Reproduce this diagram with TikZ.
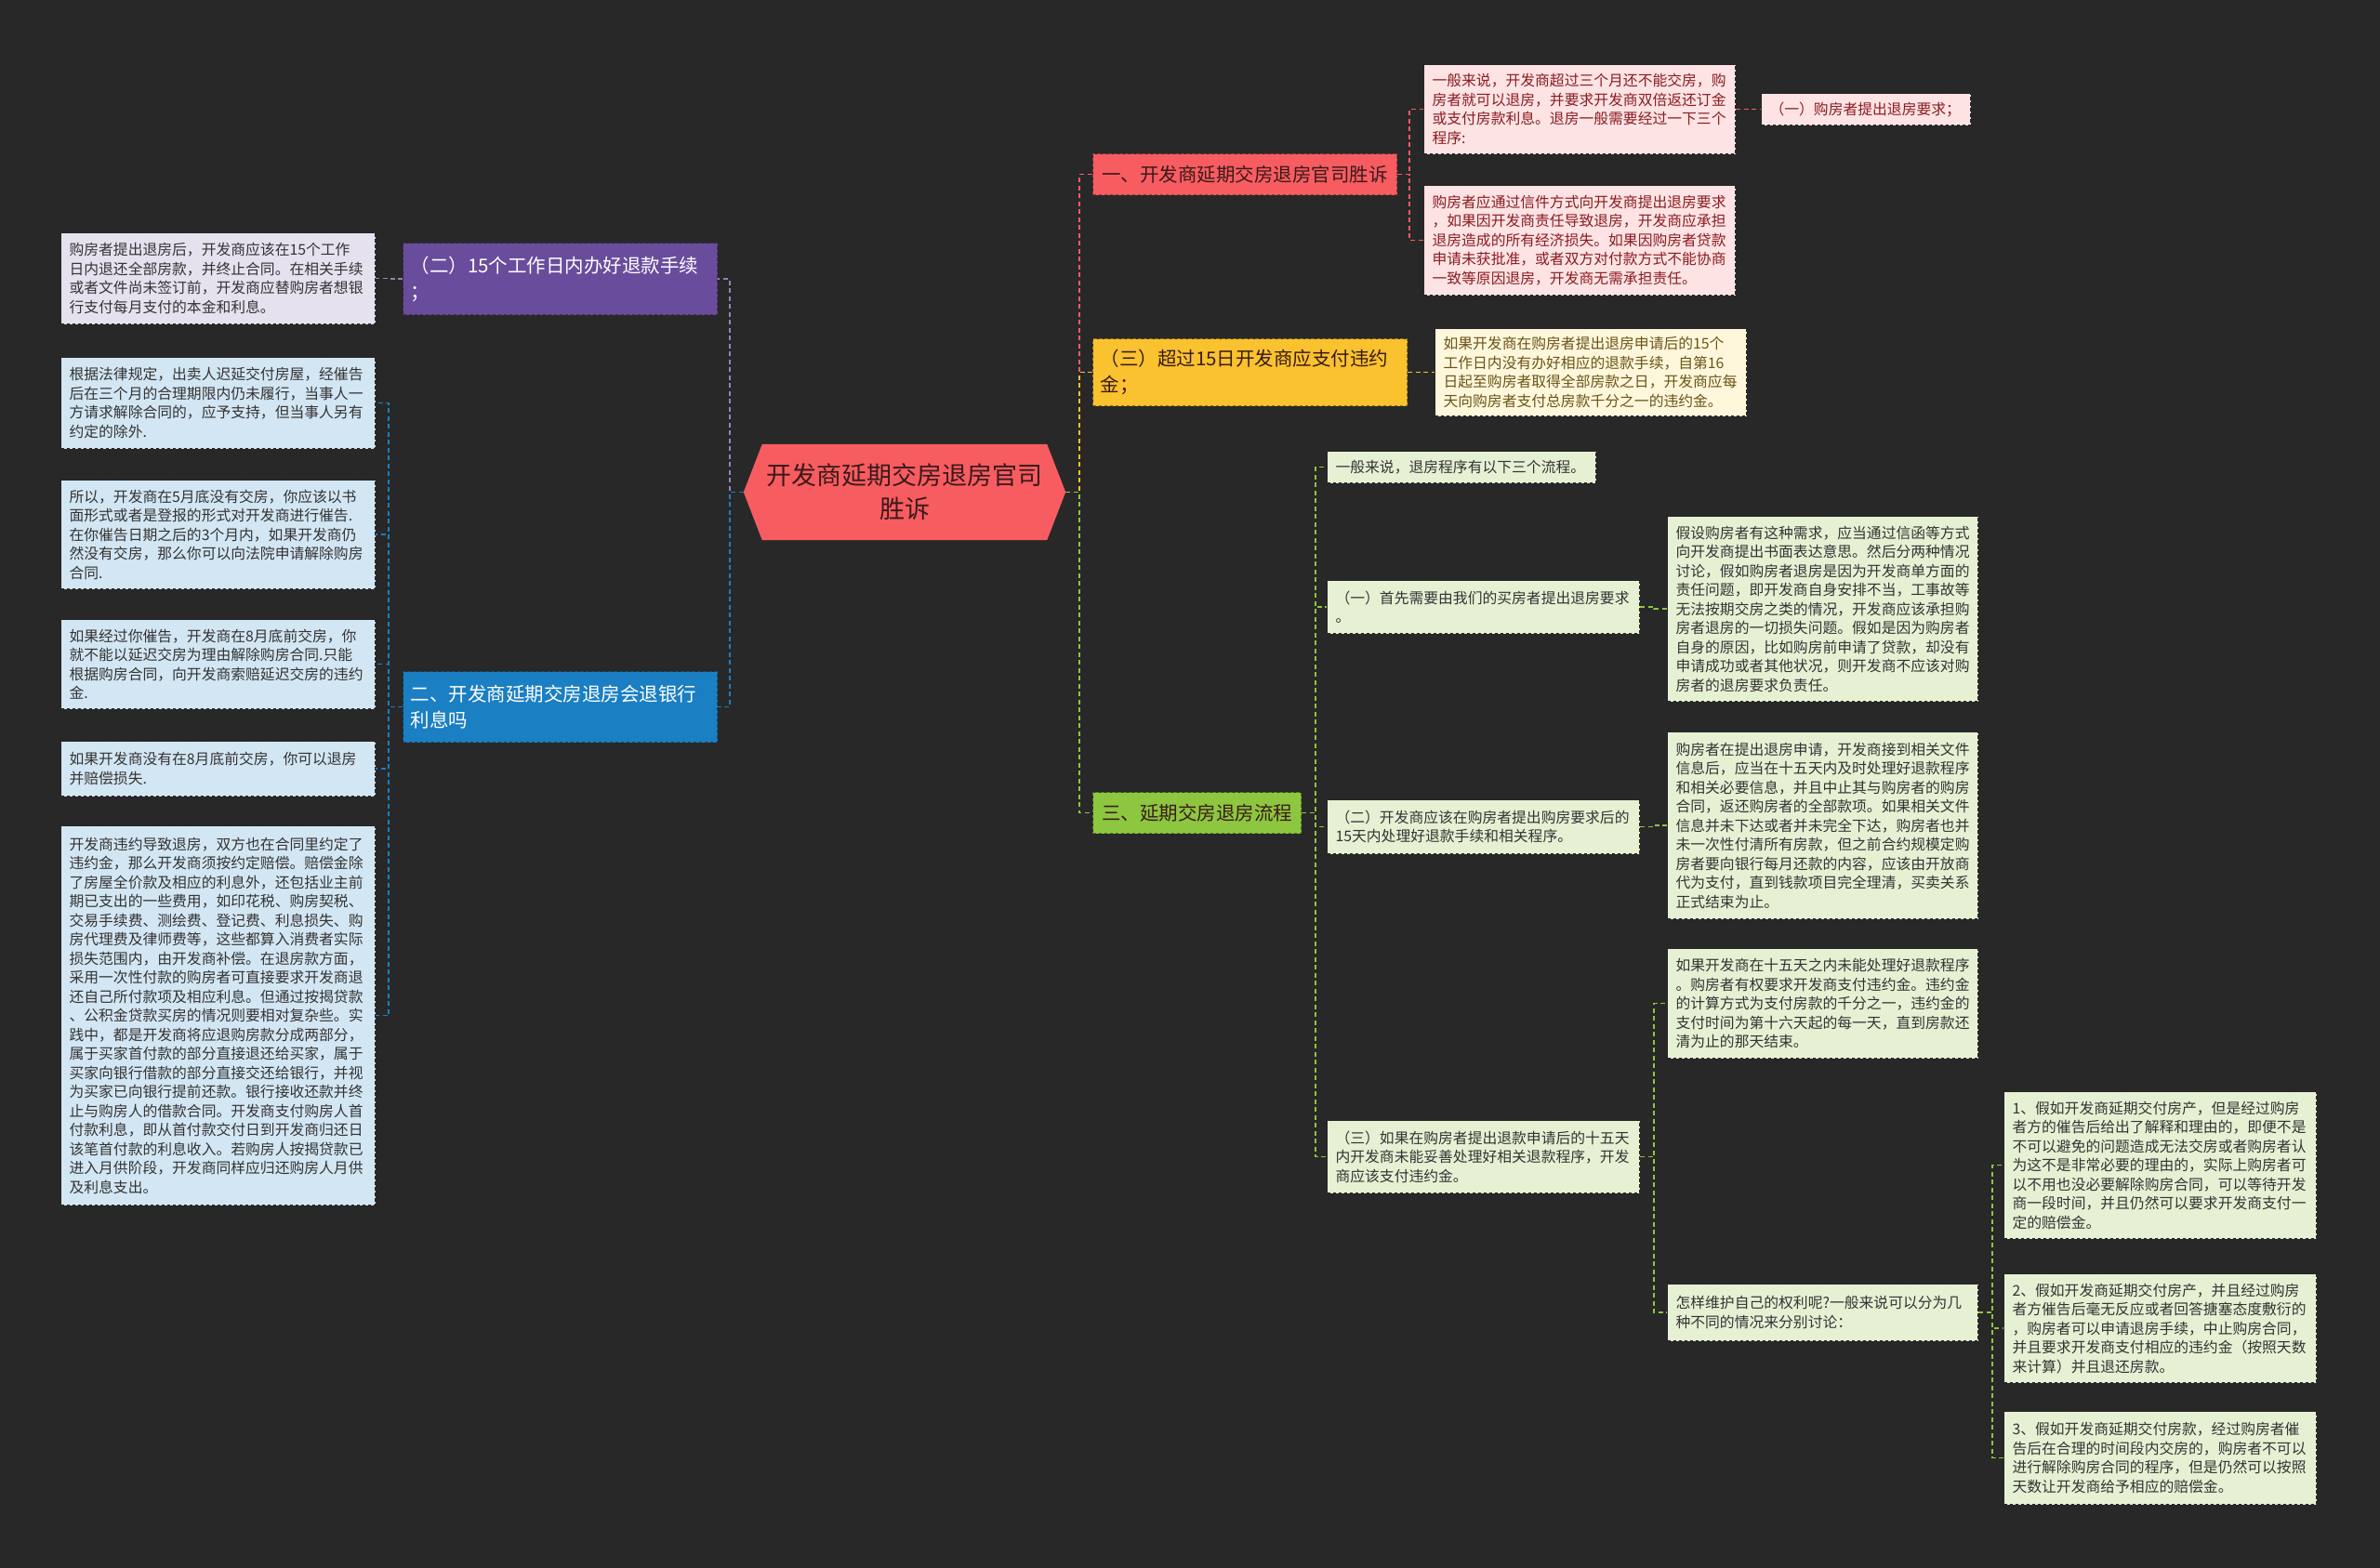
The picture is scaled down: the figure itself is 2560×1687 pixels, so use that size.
\documentclass[tikz,border=0pt]{standalone}
\usepackage{fontspec}
\setmainfont{Noto Sans CJK SC}
\usetikzlibrary{calc}
\definecolor{bgc}{HTML}{282828}
\definecolor{cRoot}{HTML}{F75C61}
\definecolor{cRed}{HTML}{F75C61}
\definecolor{cPurple}{HTML}{6A4C9C}
\definecolor{cBlue}{HTML}{1A7FC3}
\definecolor{cYellow}{HTML}{F9C22E}
\definecolor{cGreen}{HTML}{8DC63F}
\definecolor{fPurple}{HTML}{E6E1EF}
\definecolor{fBlue}{HTML}{D3E6F3}
\definecolor{fRed}{HTML}{FDE3E4}
\definecolor{fYellow}{HTML}{FEF7DC}
\definecolor{fGreen}{HTML}{E6F1D4}
\definecolor{tDark}{HTML}{333333}
\definecolor{tRed}{HTML}{8A1C20}
\definecolor{tYellow}{HTML}{6A5416}
\definecolor{tRoot}{HTML}{3A1A1A}
\pgfdeclarelayer{canvas}
\pgfdeclarelayer{bg}
\pgfsetlayers{canvas,bg,main}
\begin{document}
\begin{tikzpicture}[x=1pt,y=1pt,
  leafbox/.style={anchor=north west, inner xsep=9pt, inner ysep=3pt, align=left,
    font=\fontsize{15.8}{20.5}\selectfont, draw=black!85, line width=1.1pt,
    dash pattern=on 3.5pt off 2.5pt},
  lP/.style={leafbox, fill=fPurple, text=tDark},
  lB/.style={leafbox, fill=fBlue, text=tDark},
  lR/.style={leafbox, fill=fRed, text=tRed},
  lY/.style={leafbox, fill=fYellow, text=tYellow},
  lG/.style={leafbox, fill=fGreen, text=tDark},
  midbox/.style={anchor=north west, inner xsep=8pt, inner ysep=3pt,
    font=\fontsize{20.5}{28}\selectfont, line width=1.1pt, dash pattern=on 3.5pt off 2.5pt},
  mP/.style={midbox, fill=cPurple, draw=cPurple!60!black, text=white, align=left},
  mB/.style={midbox, fill=cBlue, draw=cBlue!60!black, text=white, align=left},
  mR/.style={midbox, fill=cRed, draw=cRed!60!black, text=tRoot, align=center},
  mY/.style={midbox, fill=cYellow, draw=cYellow!60!black, text=tRoot, align=left},
  mG/.style={midbox, fill=cGreen, draw=cGreen!60!black, text=tRoot, align=center},
  rootnode/.style={inner sep=0pt, minimum width=346pt, minimum height=103pt, align=center,
    font=\fontsize{27}{36}\selectfont, text=tRoot},
  con/.style={line width=1.5pt, dash pattern=on 5pt off 3.5pt},
  cnP/.style={con, draw=cPurple!70!white},
  cnB/.style={con, draw=cBlue},
  cnR/.style={con, draw=cRed},
  cnY/.style={con, draw=cYellow},
  cnG/.style={con, draw=cGreen},
]
\begin{pgfonlayer}{canvas}
\fill[bgc] (0,0) rectangle (2560,-1687);
\end{pgfonlayer}
\useasboundingbox (0,0) rectangle (2560,-1687);

% root
\node[rootnode] (root) at (973,-529.5) {开发商延期交房退房官司\\胜诉};

% level 1
\node[mP, text width=322pt, minimum height=77pt] (p1) at (433,-261) {（二）15个工作日内办好退款手续\\；};
\node[mB, text width=322pt, minimum height=76pt] (bl) at (433,-722) {二、开发商延期交房退房会退银行\\利息吗};
\node[mR, minimum width=327pt, minimum height=44pt] (rd) at (1175,-165) {一、开发商延期交房退房官司胜诉};
\node[mY, text width=322pt, minimum height=72pt] (yl) at (1175,-364) {（三）超过15日开发商应支付违约\\金；};
\node[mG, minimum width=224pt, minimum height=44pt] (gr) at (1175,-852) {三、延期交房退房流程};

% left leaves
\node[lP, text width=320pt, minimum height=98pt] (l1) at (65,-250) {购房者提出退房后，开发商应该在15个工作\\日内退还全部房款，并终止合同。在相关手续\\或者文件尚未签订前，开发商应替购房者想银\\行支付每月支付的本金和利息。};
\node[lB, text width=320pt, minimum height=98pt] (b1) at (65,-384) {根据法律规定，出卖人迟延交付房屋，经催告\\后在三个月的合理期限内仍未履行，当事人一\\方请求解除合同的，应予支持，但当事人另有\\约定的除外.};
\node[lB, text width=320pt, minimum height=117pt] (b2) at (65,-516) {所以，开发商在5月底没有交房，你应该以书\\面形式或者是登报的形式对开发商进行催告.\\在你催告日期之后的3个月内，如果开发商仍\\然没有交房，那么你可以向法院申请解除购房\\合同.};
\node[lB, text width=320pt, minimum height=96pt] (b3) at (65,-666) {如果经过你催告，开发商在8月底前交房，你\\就不能以延迟交房为理由解除购房合同.只能\\根据购房合同，向开发商索赔延迟交房的违约\\金.};
\node[lB, text width=320pt, minimum height=59pt] (b4) at (65,-797) {如果开发商没有在8月底前交房，你可以退房\\并赔偿损失.};
\node[lB, text width=320pt, minimum height=408pt] (b5) at (65,-888) {开发商违约导致退房，双方也在合同里约定了\\违约金，那么开发商须按约定赔偿。赔偿金除\\了房屋全价款及相应的利息外，还包括业主前\\期已支出的一些费用，如印花税、购房契税、\\交易手续费、测绘费、登记费、利息损失、购\\房代理费及律师费等，这些都算入消费者实际\\损失范围内，由开发商补偿。在退房款方面，\\采用一次性付款的购房者可直接要求开发商退\\还自己所付款项及相应利息。但通过按揭贷款\\、公积金贷款买房的情况则要相对复杂些。实\\践中，都是开发商将应退购房款分成两部分，\\属于买家首付款的部分直接退还给买家，属于\\买家向银行借款的部分直接交还给银行，并视\\为买家已向银行提前还款。银行接收还款并终\\止与购房人的借款合同。开发商支付购房人首\\付款利息，即从首付款交付日到开发商归还日\\该笔首付款的利息收入。若购房人按揭贷款已\\进入月供阶段，开发商同样应归还购房人月供\\及利息支出。};

% red branch leaves
\node[lR, text width=317pt, minimum height=96pt] (r1) at (1531,-69) {一般来说，开发商超过三个月还不能交房，购\\房者就可以退房，并要求开发商双倍返还订金\\或支付房款利息。退房一般需要经过一下三个\\程序:};
\node[lR, text width=317pt, minimum height=118pt] (r2) at (1531,-199) {购房者应通过信件方式向开发商提出退房要求\\，如果因开发商责任导致退房，开发商应承担\\退房造成的所有经济损失。如果因购房者贷款\\申请未获批准，或者双方对付款方式不能协商\\一致等原因退房，开发商无需承担责任。};
\node[lR, text width=207pt, minimum height=34pt] (r3) at (1894,-100) {（一）购房者提出退房要求；};

% yellow leaf
\node[lY, text width=317pt, minimum height=94pt] (y1) at (1543,-353) {如果开发商在购房者提出退房申请后的15个\\工作日内没有办好相应的退款手续，自第16\\日起至购房者取得全部房款之日，开发商应每\\天向购房者支付总房款千分之一的违约金。};

% green branch
\node[lG, text width=271pt, minimum height=34pt] (g1) at (1427,-485) {一般来说，退房程序有以下三个流程。};
\node[lG, text width=318pt, minimum height=57pt] (g2) at (1427,-624) {（一）首先需要由我们的买房者提出退房要求\\。};
\node[lG, text width=316pt, minimum height=199pt] (g2a) at (1793,-555) {假设购房者有这种需求，应当通过信函等方式\\向开发商提出书面表达意思。然后分两种情况\\讨论，假如购房者退房是因为开发商单方面的\\责任问题，即开发商自身安排不当，工事故等\\无法按期交房之类的情况，开发商应该承担购\\房者退房的一切损失问题。假如是因为购房者\\自身的原因，比如购房前申请了贷款，却没有\\申请成功或者其他状况，则开发商不应该对购\\房者的退房要求负责任。};
\node[lG, text width=318pt, minimum height=58pt] (g3) at (1427,-860) {（二）开发商应该在购房者提出购房要求后的\\15天内处理好退款手续和相关程序。};
\node[lG, text width=316pt, minimum height=201pt] (g3a) at (1793,-787) {购房者在提出退房申请，开发商接到相关文件\\信息后，应当在十五天内及时处理好退款程序\\和相关必要信息，并且中止其与购房者的购房\\合同，返还购房者的全部款项。如果相关文件\\信息并未下达或者并未完全下达，购房者也并\\未一次性付清所有房款，但之前合约规模定购\\房者要向银行每月还款的内容，应该由开放商\\代为支付，直到钱款项目完全理清，买卖关系\\正式结束为止。};
\node[lG, text width=318pt, minimum height=78pt] (g4) at (1427,-1205) {（三）如果在购房者提出退款申请后的十五天\\内开发商未能妥善处理好相关退款程序，开发\\商应该支付违约金。};
\node[lG, text width=316pt, minimum height=118pt] (g4a) at (1793,-1020) {如果开发商在十五天之内未能处理好退款程序\\。购房者有权要求开发商支付违约金。违约金\\的计算方式为支付房款的千分之一，违约金的\\支付时间为第十六天起的每一天，直到房款还\\清为止的那天结束。};
\node[lG, text width=316pt, minimum height=61pt] (g4b) at (1793,-1381) {怎样维护自己的权利呢?一般来说可以分为几\\种不同的情况来分别讨论：};
\node[lG, text width=318pt, minimum height=158pt] (h1) at (2155,-1174) {1、假如开发商延期交付房产，但是经过购房\\者方的催告后给出了解释和理由的，即便不是\\不可以避免的问题造成无法交房或者购房者认\\为这不是非常必要的理由的，实际上购房者可\\以不用也没必要解除购房合同，可以等待开发\\商一段时间，并且仍然可以要求开发商支付一\\定的赔偿金。};
\node[lG, text width=318pt, minimum height=117pt] (h2) at (2155,-1370) {2、假如开发商延期交付房产，并且经过购房\\者方催告后毫无反应或者回答搪塞态度敷衍的\\，购房者可以申请退房手续，中止购房合同，\\并且要求开发商支付相应的违约金（按照天数\\来计算）并且退还房款。};
\node[lG, text width=318pt, minimum height=100pt] (h3) at (2155,-1518) {3、假如开发商延期交付房款，经过购房者催\\告后在合理的时间段内交房的，购房者不可以\\进行解除购房合同的程序，但是仍然可以按照\\天数让开发商给予相应的赔偿金。};

\begin{pgfonlayer}{bg}
\fill[cRoot] ($(root.north west)+(20,0)$) -- ($(root.north east)+(-20,0)$) -- (root.east)
  -- ($(root.south east)+(-20,0)$) -- ($(root.south west)+(20,0)$) -- (root.west) -- cycle;
% root to level 1
\draw[cnP] (root.west) -- ++(-15,0) |- (p1.east);
\draw[cnB] (root.west) -- ++(-15,0) |- (bl.east);
\draw[cnR] (root.east) -- ++(15,0) |- (rd.west);
\draw[cnY] (root.east) -- ++(15,0) |- (yl.west);
\draw[cnG] (root.east) -- ++(15,0) |- (gr.west);
% purple
\draw[cnP] (p1.west) -- ++(-15,0) |- (l1.east);
% blue
\foreach \n in {b1,b2,b3,b4,b5}{\draw[cnB] (bl.west) -- ++(-15,0) |- (\n.east);}
% red
\draw[cnR] (rd.east) -- ++(13,0) |- (r1.west);
\draw[cnR] (rd.east) -- ++(13,0) |- (r2.west);
\draw[cnR] (r1.east) -- ++(14,0) |- (r3.west);
% yellow
\draw[cnY] (yl.east) -- ++(15,0) |- (y1.west);
% green
\foreach \n in {g1,g2,g3,g4}{\draw[cnG] (gr.east) -- ++(15,0) |- (\n.west);}
\draw[cnG] (g2.east) -- ++(15,0) |- (g2a.west);
\draw[cnG] (g3.east) -- ++(15,0) |- (g3a.west);
\draw[cnG] (g4.east) -- ++(15,0) |- (g4a.west);
\draw[cnG] (g4.east) -- ++(15,0) |- (g4b.west);
\foreach \n in {h1,h2,h3}{\draw[cnG] (g4b.east) -- ++(15,0) |- (\n.west);}
\end{pgfonlayer}
\end{tikzpicture}
\end{document}
